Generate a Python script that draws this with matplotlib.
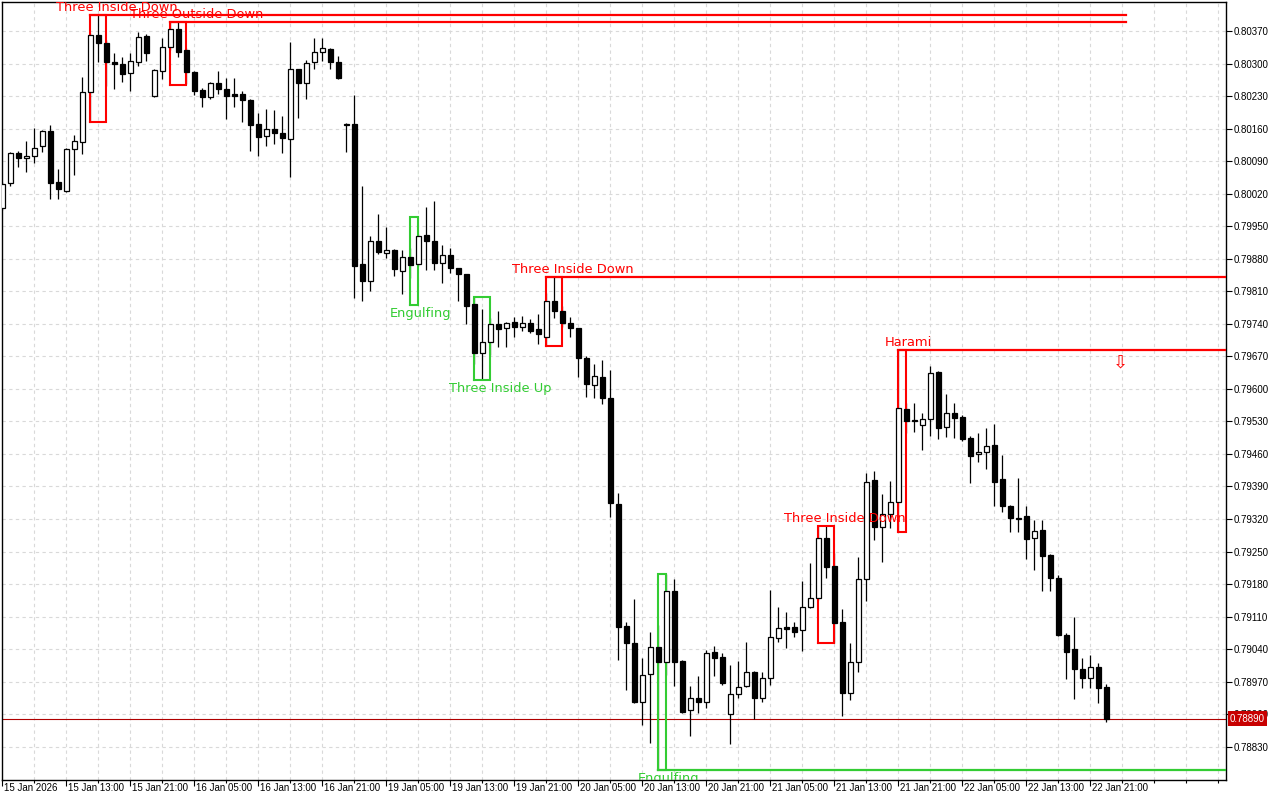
import numpy as np
import pandas as pd
import matplotlib
matplotlib.use("Agg")
import matplotlib.pyplot as plt
import matplotlib.transforms as mtransforms

plt.rcParams['font.family'] = ['DejaVu Sans']

# ---------------- data (hourly candles) ----------------
opens = [0.79989, 0.80043, 0.80107, 0.80097, 0.80101, 0.80123, 0.80155, 0.80045, 0.80026, 0.80116,
         0.80131, 0.80239, 0.80361, 0.80344, 0.80303, 0.80299, 0.80280, 0.80303, 0.80359, 0.80230,
         0.80284, 0.80336, 0.80374, 0.80329, 0.80282, 0.80243, 0.80228, 0.80258, 0.80245, 0.80234,
         0.80234, 0.80222, 0.80170, 0.80144, 0.80159, 0.80151, 0.80138, 0.80288, 0.80258, 0.80303,
         0.80325, 0.80331, 0.80303, 0.80170, 0.80170, 0.79869, 0.79832, 0.79918, 0.79892, 0.79899,
         0.79854, 0.79884, 0.79869, 0.79931, 0.79918, 0.79871, 0.79888, 0.79860, 0.79847, 0.79783,
         0.79677, 0.79701, 0.79740, 0.79731, 0.79744, 0.79733, 0.79742, 0.79729, 0.79712, 0.79789,
         0.79768, 0.79742, 0.79731, 0.79666, 0.79608, 0.79626, 0.79580, 0.79352, 0.79090, 0.79053,
         0.78926, 0.78987, 0.79045, 0.79012, 0.79165, 0.79014, 0.78909, 0.78935, 0.78926, 0.79034,
         0.79023, 0.78900, 0.78943, 0.78961, 0.78991, 0.78935, 0.78978, 0.79064, 0.79088, 0.79088,
         0.79081, 0.79131, 0.79150, 0.79279, 0.79219, 0.79098, 0.78946, 0.79012, 0.79191, 0.79404,
         0.79303, 0.79331, 0.79357, 0.79557, 0.79533, 0.79522, 0.79535, 0.79636, 0.79518, 0.79548,
         0.79539, 0.79494, 0.79460, 0.79464, 0.79479, 0.79406, 0.79348, 0.79322, 0.79326, 0.79279,
         0.79296, 0.79242, 0.79193, 0.79070, 0.79040, 0.78997, 0.78978, 0.79002, 0.78959]
highs = [0.80045, 0.80110, 0.80112, 0.80133, 0.80161, 0.80157, 0.80168, 0.80073, 0.80118, 0.80146,
         0.80271, 0.80366, 0.80404, 0.80351, 0.80323, 0.80314, 0.80323, 0.80368, 0.80364, 0.80288,
         0.80355, 0.80389, 0.80389, 0.80333, 0.80284, 0.80247, 0.80260, 0.80284, 0.80269, 0.80269,
         0.80241, 0.80224, 0.80194, 0.80202, 0.80200, 0.80187, 0.80346, 0.80288, 0.80308, 0.80355,
         0.80355, 0.80333, 0.80316, 0.80172, 0.80232, 0.80037, 0.79929, 0.79976, 0.79948, 0.79901,
         0.79899, 0.79903, 0.79933, 0.79991, 0.80004, 0.79910, 0.79903, 0.79860, 0.79847, 0.79798,
         0.79772, 0.79753, 0.79768, 0.79744, 0.79755, 0.79757, 0.79750, 0.79761, 0.79806, 0.79841,
         0.79778, 0.79755, 0.79731, 0.79671, 0.79654, 0.79662, 0.79641, 0.79376, 0.79098, 0.79148,
         0.79021, 0.79077, 0.79092, 0.79202, 0.79191, 0.79017, 0.78961, 0.78982, 0.79038, 0.79047,
         0.79032, 0.79006, 0.79014, 0.79055, 0.78993, 0.78991, 0.79167, 0.79131, 0.79120, 0.79098,
         0.79187, 0.79225, 0.79305, 0.79305, 0.79247, 0.79126, 0.79053, 0.79238, 0.79419, 0.79423,
         0.79374, 0.79402, 0.79684, 0.79570, 0.79570, 0.79548, 0.79649, 0.79638, 0.79589, 0.79570,
         0.79544, 0.79499, 0.79505, 0.79516, 0.79524, 0.79458, 0.79350, 0.79408, 0.79348, 0.79318,
         0.79318, 0.79245, 0.79199, 0.79075, 0.79109, 0.79021, 0.79027, 0.79010, 0.78965]
lows = [0.79985, 0.80037, 0.80077, 0.80067, 0.80086, 0.80110, 0.80009, 0.80009, 0.80024, 0.80060,
        0.80105, 0.80174, 0.80303, 0.80252, 0.80245, 0.80260, 0.80241, 0.80295, 0.80305, 0.80228,
        0.80267, 0.80329, 0.80314, 0.80256, 0.80232, 0.80206, 0.80224, 0.80234, 0.80181, 0.80206,
        0.80174, 0.80112, 0.80101, 0.80123, 0.80127, 0.80108, 0.80056, 0.80183, 0.80224, 0.80288,
        0.80305, 0.80288, 0.80267, 0.80110, 0.79796, 0.79789, 0.79811, 0.79890, 0.79882, 0.79843,
        0.79804, 0.79839, 0.79864, 0.79856, 0.79856, 0.79828, 0.79849, 0.79789, 0.79740, 0.79654,
        0.79619, 0.79673, 0.79690, 0.79690, 0.79712, 0.79725, 0.79720, 0.79697, 0.79692, 0.79753,
        0.79733, 0.79712, 0.79626, 0.79583, 0.79580, 0.79567, 0.79324, 0.79017, 0.78952, 0.78924,
        0.78877, 0.78838, 0.78780, 0.78984, 0.78961, 0.78903, 0.78853, 0.78903, 0.78913, 0.78982,
        0.78963, 0.78836, 0.78935, 0.78959, 0.78890, 0.78926, 0.78963, 0.79055, 0.79042, 0.79066,
        0.79036, 0.79129, 0.79146, 0.79193, 0.79053, 0.78896, 0.78931, 0.78991, 0.79144, 0.79275,
        0.79227, 0.79301, 0.79292, 0.79505, 0.79507, 0.79468, 0.79499, 0.79492, 0.79496, 0.79494,
        0.79488, 0.79397, 0.79443, 0.79428, 0.79348, 0.79335, 0.79292, 0.79292, 0.79234, 0.79210,
        0.79165, 0.79165, 0.79068, 0.78976, 0.78933, 0.78956, 0.78956, 0.78924, 0.78883]
closes = [0.80041, 0.80107, 0.80097, 0.80101, 0.80118, 0.80155, 0.80043, 0.80030, 0.80116, 0.80133,
          0.80239, 0.80361, 0.80344, 0.80303, 0.80299, 0.80278, 0.80305, 0.80357, 0.80323, 0.80286,
          0.80336, 0.80374, 0.80325, 0.80282, 0.80241, 0.80228, 0.80258, 0.80245, 0.80230, 0.80230,
          0.80222, 0.80168, 0.80142, 0.80159, 0.80151, 0.80140, 0.80288, 0.80258, 0.80301, 0.80325,
          0.80333, 0.80303, 0.80269, 0.80168, 0.79864, 0.79832, 0.79918, 0.79895, 0.79899, 0.79858,
          0.79884, 0.79867, 0.79929, 0.79918, 0.79871, 0.79888, 0.79860, 0.79847, 0.79778, 0.79677,
          0.79701, 0.79740, 0.79729, 0.79742, 0.79733, 0.79742, 0.79725, 0.79718, 0.79789, 0.79768,
          0.79742, 0.79731, 0.79666, 0.79611, 0.79628, 0.79580, 0.79354, 0.79088, 0.79053, 0.78926,
          0.78984, 0.79045, 0.79012, 0.79165, 0.79012, 0.78905, 0.78935, 0.78926, 0.79032, 0.79021,
          0.78967, 0.78943, 0.78959, 0.78991, 0.78935, 0.78978, 0.79066, 0.79085, 0.79083, 0.79077,
          0.79131, 0.79150, 0.79279, 0.79217, 0.79096, 0.78946, 0.79012, 0.79191, 0.79400, 0.79303,
          0.79331, 0.79357, 0.79559, 0.79531, 0.79531, 0.79535, 0.79634, 0.79516, 0.79548, 0.79537,
          0.79492, 0.79456, 0.79464, 0.79477, 0.79400, 0.79348, 0.79322, 0.79320, 0.79277, 0.79294,
          0.79240, 0.79193, 0.79070, 0.79034, 0.78997, 0.78978, 0.79002, 0.78956, 0.78890]

# bar times (hourly, weekend gap)
times = list(pd.date_range("2026-01-15 05:00", "2026-01-16 23:00", freq="h")) + \
        list(pd.date_range("2026-01-19 00:00", "2026-01-22 23:00", freq="h"))

price_ticks = [0.78830, 0.78900, 0.78970, 0.79040, 0.79110, 0.79180, 0.79250, 0.79320,
               0.79390, 0.79460, 0.79530, 0.79600, 0.79670, 0.79740, 0.79810, 0.79880,
               0.79950, 0.80020, 0.80090, 0.80160, 0.80230, 0.80300, 0.80370]

# patterns: name, first bar, last bar, top, bottom, bullish?, extension
pattern_names = ["Three Inside Down", "Three Outside Down", "Engulfing", "Three Inside Up",
                 "Three Inside Down", "Engulfing", "Three Inside Down", "Harami"]
pattern_start = [11, 21, 51, 59, 68, 82, 102, 112]
pattern_end = [13, 23, 52, 61, 70, 83, 104, 113]
pattern_top = [0.80404, 0.80389, 0.79970, 0.79798, 0.79841, 0.79202, 0.79305, 0.79684]
pattern_bottom = [0.80174, 0.80254, 0.79780, 0.79619, 0.79692, 0.78780, 0.79053, 0.79292]
pattern_bull = [False, False, True, True, False, True, False, False]
pattern_ext = ["short", "short", None, None, "full", "full", None, "full"]

current_price = 0.78890
sell_signal_price = 0.79656

# ---------------- figure ----------------
W, H = 1280, 800
fig = plt.figure(figsize=(W / 100, H / 100), dpi=100)
fig.patch.set_facecolor("white")
ax = fig.add_axes([2 / W, 20 / H, 1224 / W, 778 / H])
n = len(opens)
x = np.arange(n)
xmax = 152.96
ax.set_xlim(-0.04, xmax)
ax.set_ylim(0.787584, 0.804324)

# grid
grid_kw = dict(color="#d9d9d9", lw=0.8, ls=(0, (3, 3)), zorder=0)
for k in range(4, int(xmax) + 1, 4):
    ax.axvline(k, **grid_kw)
for p in price_ticks:
    ax.axhline(p, **grid_kw)

o = np.array(opens); c = np.array(closes); hi = np.array(highs); lo = np.array(lows)
bull = c > o
ax.vlines(x, lo, hi, color="black", lw=0.9, zorder=2)
bw = 0.62
body_bottom = np.minimum(o, c)
body_h = np.maximum(np.abs(c - o), 0.000008)
ax.bar(x[bull], body_h[bull], bottom=body_bottom[bull], width=bw, color="white",
       edgecolor="black", linewidth=0.9, zorder=4)
ax.bar(x[~bull], body_h[~bull], bottom=body_bottom[~bull], width=bw, color="black",
       edgecolor="black", linewidth=0.9, zorder=4)

# current price line
ax.axhline(current_price, color="#b00000", lw=0.8, zorder=1)

# patterns
red = "#ff0000"
green = "#33cc33"
short_end = n + 1.5
for name, s, e, top, bot, isbull, ext in zip(pattern_names, pattern_start, pattern_end,
                                             pattern_top, pattern_bottom, pattern_bull, pattern_ext):
    col = green if isbull else red
    ax.plot([s, s, e, e, s], [bot, top, top, bot, bot], color=col, lw=1.5, zorder=3,
            solid_joinstyle="miter")
    if ext is not None:
        yline = bot if isbull else top
        xend = short_end if ext == "short" else xmax
        ax.plot([s, xend], [yline, yline], color=col, lw=1.6, zorder=3)
    off = 3.25 if (e - s) == 2 else 1.25
    if isbull:
        ann = ax.annotate(name, (s + off, bot), xytext=(0, -6), textcoords="offset points",
                          ha="center", va="center", color=col, fontsize=9.4, zorder=6)
    else:
        ann = ax.annotate(name, (s + off, top), xytext=(0, 5.5), textcoords="offset points",
                          ha="center", va="center", color=col, fontsize=9.4, zorder=6)
    ann.set_clip_path(ax.patch)

# sell arrow
ax.text(n + 0.8, sell_signal_price, "\u21e9", color=red, fontsize=13, ha="center",
        va="center", zorder=6)

# axes styling
for sp in ax.spines.values():
    sp.set_color("black")
    sp.set_linewidth(1.0)

ax.yaxis.tick_right()
ax.set_yticks(price_ticks)
ax.set_yticklabels([f"{p:.5f}" for p in price_ticks])
ax.tick_params(axis="y", which="major", direction="out", length=4, width=0.8, pad=1.5,
               labelsize=7, colors="black")
for lab in ax.get_yticklabels():
    lab.set_family(["Liberation Sans", "DejaVu Sans"])

major_idx = [0] + list(range(8, n, 8))
major_lab = ["15 Jan 2026"] + [times[k].strftime("%d %b %H:%M").lstrip("0") for k in major_idx[1:]]
minor_idx = [k for k in range(4, int(xmax) + 1, 4) if k not in major_idx]
ax.set_xticks(major_idx)
ax.set_xticklabels(major_lab)
ax.set_xticks(minor_idx, minor=True)
ax.tick_params(axis="x", which="major", direction="out", length=4.5, width=0.8, pad=-2.2,
               labelsize=7, colors="black")
ax.tick_params(axis="x", which="minor", direction="out", length=2, width=0.8)
for lab in ax.get_xticklabels():
    lab.set_family(["Liberation Sans", "DejaVu Sans"])
    lab.set_ha("left")
    lab.set_x(0)

# shift x labels slightly right of their tick marks
offset = mtransforms.ScaledTranslation(2 / 100, 0, fig.dpi_scale_trans)
for lab in ax.get_xticklabels():
    lab.set_transform(lab.get_transform() + offset)

# current price label on the right axis
trans = mtransforms.blended_transform_factory(ax.transAxes, ax.transData)
ax.text(1.0 + 4 / 1224, current_price, f"{current_price:.5f}", transform=trans, ha="left",
        va="center", color="white", fontsize=7, family=["Liberation Sans", "DejaVu Sans"],
        bbox=dict(boxstyle="square,pad=0.25", fc="#c80000", ec="none"), clip_on=False, zorder=10)

fig.savefig("out.png", dpi=100)
